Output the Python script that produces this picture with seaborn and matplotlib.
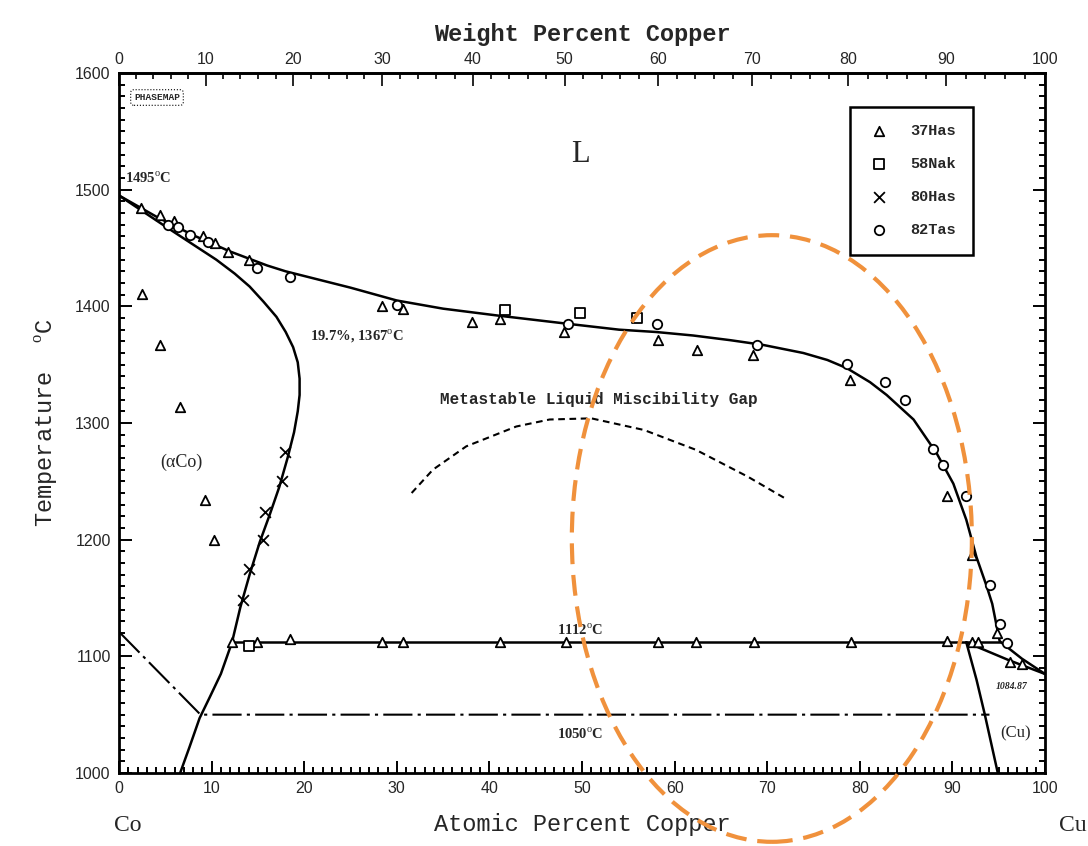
import numpy as np
import pandas as pd
import matplotlib
matplotlib.use("Agg")
import matplotlib.pyplot as plt
from matplotlib.patches import Ellipse
import seaborn as sns

# ---------------- data ----------------
liq_x = [0, 2, 4, 6, 8, 10, 12, 14, 16, 18, 20, 25, 30, 35, 41, 48.5, 54, 58, 62, 66, 69.5,
         73.9, 76.5, 78.6, 81.1, 82.9, 85.8, 88.3, 90.1, 91.5, 92.6, 93.7, 94.3, 94.8, 95.1,
         97.5, 100]
liq_T = [1495, 1486, 1477, 1469, 1461, 1454, 1447, 1441, 1435, 1430, 1426, 1416, 1405, 1398,
         1392, 1385, 1380, 1378, 1375, 1371, 1367, 1360, 1354, 1347, 1335, 1324, 1303, 1274,
         1248, 1217, 1185, 1160, 1145, 1125, 1113, 1098, 1084.87]

sol_x = [0, 5.1, 10.5, 12.5, 14.1, 15.6, 17.0, 18.0, 18.8, 19.3, 19.5, 19.5, 19.3, 18.9,
         18.2, 17.3, 16.3, 15.2, 14.1, 13.1, 12.2, 11.0, 9.8, 8.7, 7.6, 6.6]
sol_T = [1495, 1468, 1440, 1428, 1417, 1404, 1391, 1378, 1365, 1352, 1338, 1324, 1310, 1292,
         1270, 1245, 1222, 1198, 1170, 1142, 1112, 1085, 1065, 1047, 1022, 1000]

peri_x = [12.2, 95.1]
peri_T = [1112, 1112]

cu_solidus_x = [91.5, 96.0, 100]
cu_solidus_T = [1112, 1097, 1084.87]

cu_solvus_x = [91.5, 92.6, 93.5, 94.9]
cu_solvus_T = [1112, 1080, 1050, 1000]

mag_x = [0, 8.8, 94.0]
mag_T = [1121, 1050, 1050]

gap_x = [31.6, 33.9, 37.5, 42.9, 46.5, 51.0, 56.7, 62.3, 67.9, 71.8]
gap_T = [1240, 1260, 1280, 1297, 1303, 1304, 1294, 1277, 1254, 1236]

has37_x = [2.4, 4.4, 5.9, 9.1, 10.4, 11.8, 14.0, 28.4, 30.7, 38.1, 41.1, 48.0, 58.2, 62.4,
           68.5, 78.9, 89.4, 92.1, 94.8,
           2.5, 4.4, 6.6, 9.3, 10.3,
           12.2, 14.9, 18.5, 28.4, 30.7, 41.1, 48.3, 58.2, 62.3, 68.6, 79.0, 89.4, 92.1, 92.8,
           96.2, 97.5]
has37_T = [1484, 1478, 1473, 1460, 1454, 1447, 1440, 1400, 1398, 1387, 1389, 1378, 1371, 1363,
           1358, 1337, 1237, 1187, 1120,
           1411, 1367, 1314, 1234, 1200,
           1112, 1112, 1115, 1112, 1112, 1112, 1112, 1112, 1112, 1112, 1112, 1113, 1112, 1112,
           1095, 1093]

nak58_x = [41.7, 49.8, 55.9, 14.0]
nak58_T = [1397, 1394, 1390, 1109]

has80_x = [17.9, 17.6, 15.8, 15.6, 14.0, 13.4]
has80_T = [1275, 1250, 1224, 1200, 1175, 1148]

tas82_x = [5.3, 6.4, 7.7, 9.6, 14.9, 18.5, 30.0, 48.5, 58.1, 68.9, 78.6, 82.7, 84.9, 87.9,
           89.0, 91.5, 94.1, 95.1, 95.9]
tas82_T = [1470, 1468, 1461, 1455, 1433, 1425, 1401, 1385, 1385, 1367, 1351, 1335, 1320, 1278,
           1264, 1237, 1161, 1128, 1111]

legend_labels = ["37Has", "58Nak", "80Has", "82Tas"]
x_ticks = list(range(0, 101, 10))
y_ticks = list(range(1000, 1601, 100))
wt_ticks = list(range(0, 101, 10))

# ---------------- style ----------------
sns.set_style("white")
plt.rcParams['font.family'] = ['Liberation Serif', 'DejaVu Sans']
plt.rcParams['mathtext.fontset'] = 'custom'
plt.rcParams['mathtext.rm'] = 'Liberation Serif'
plt.rcParams['mathtext.bf'] = 'Liberation Serif:bold'

fig = plt.figure(figsize=(10.88, 8.46), dpi=100)
ax = fig.add_axes([0.1094, 0.0863, 0.8511, 0.8274])

LW = 1.8
def line(xs, ts, **kw):
    sns.lineplot(x=xs, y=ts, sort=False, estimator=None, color='black', lw=kw.pop('lw', LW),
                 ax=ax, **kw)

line(liq_x, liq_T)
line(sol_x, sol_T)
line(peri_x, peri_T)
line(cu_solidus_x, cu_solidus_T)
line(cu_solvus_x, cu_solvus_T)
line(mag_x, mag_T, lw=1.5, linestyle=(0, (14, 2.5, 1.5, 2.5)))
line(gap_x, gap_T, lw=1.5, linestyle=(0, (3.2, 2.2)))

mk = dict(ax=ax, zorder=5)
sns.scatterplot(x=has37_x, y=has37_T, marker='^', s=46, facecolor='white', edgecolor='black',
                linewidth=1.3, label=legend_labels[0], **mk)
sns.scatterplot(x=nak58_x, y=nak58_T, marker='s', s=42, facecolor='white', edgecolor='black',
                linewidth=1.3, label=legend_labels[1], **mk)
sns.scatterplot(x=has80_x, y=has80_T, marker='x', s=60, color='black',
                linewidth=1.3, label=legend_labels[2], **mk)
sns.scatterplot(x=tas82_x, y=tas82_T, marker='o', s=46, facecolor='white', edgecolor='black',
                linewidth=1.3, label=legend_labels[3], **mk)

ax.set_xlim(0, 100)
ax.set_ylim(1000, 1600)

# ticks
ax.set_xticks(x_ticks)
ax.set_xticks(np.arange(0, 101, 1), minor=True)
ax.set_yticks(y_ticks)
ax.set_yticks(np.arange(1000, 1601, 10), minor=True)
ax.tick_params(which='both', direction='in', right=True, top=False, bottom=True, left=True,
               width=1.4, color='black')
ax.tick_params(which='major', length=9, labelsize=11.5, pad=6)
ax.tick_params(which='minor', length=4)
for lab in ax.get_xticklabels() + ax.get_yticklabels():
    lab.set_fontfamily('Liberation Sans')
for sp in ax.spines.values():
    sp.set_linewidth(2.0)
    sp.set_color('black')

MCo, MCu = 58.933, 63.546
def at2wt(a):
    a = np.asarray(a, dtype=float)
    return 100 * a * MCu / (a * MCu + (100 - a) * MCo)
def wt2at(w):
    w = np.asarray(w, dtype=float)
    return 100 * (w / MCu) / (w / MCu + (100 - w) / MCo)

sec = ax.secondary_xaxis('top', functions=(at2wt, wt2at))
sec.set_xticks(wt_ticks)
sec.set_xticks(np.arange(0, 101, 2), minor=True)
sec.tick_params(which='both', direction='in', width=1.4)
sec.tick_params(which='major', length=9, labelsize=11.5, pad=4)
sec.tick_params(which='minor', length=4)
for lab in sec.get_xticklabels():
    lab.set_fontfamily('Liberation Sans')
sec.spines['top'].set_linewidth(2.0)
sec.set_xlabel('Weight Percent Copper', fontsize=17, family='Liberation Mono', weight='bold',
               labelpad=8)

ax.set_xlabel('Atomic Percent Copper', fontsize=17, family='Liberation Mono', labelpad=12)
ax.set_ylabel('Temperature  $^{\\rm o}$C', fontsize=17, family='Liberation Mono', labelpad=10)

# annotations
ax.text(-0.5, 955, 'Co', fontsize=17, family='Liberation Serif', ha='left', va='center')
ax.text(101.5, 955, 'Cu', fontsize=17, family='Liberation Serif', ha='left', va='center')
ax.text(49.8, 1530, 'L', fontsize=22, family='Liberation Serif', ha='center', va='center')
ax.text(0.6, 1510, '1495$^{\\rm o}$C', fontsize=10.5, weight='bold', ha='left', va='center')
ax.text(20.6, 1374, '19.7%, 1367$^{\\rm o}$C', fontsize=10.5, weight='bold', ha='left', va='center')
ax.text(4.4, 1266, '(αCo)', fontsize=13, family='Liberation Serif', ha='left', va='center')
ax.text(51.8, 1320, 'Metastable Liquid Miscibility Gap', fontsize=11.5, weight='bold',
        family='Liberation Mono', ha='center', va='center')
ax.text(49.8, 1122, '1112$^{\\rm o}$C', fontsize=10.5, weight='bold', ha='center', va='center')
ax.text(49.8, 1033, '1050$^{\\rm o}$C', fontsize=10.5, weight='bold', ha='center', va='center')
ax.text(96.4, 1074, '1084.87', fontsize=7, weight='bold', style='italic', ha='center', va='center')
ax.text(96.8, 1034, '(Cu)', fontsize=12, family='Liberation Serif', ha='center', va='center')
ax.text(4.1, 1579, 'PHASEMAP', fontsize=6.8, weight='bold', family='Liberation Mono',
        ha='center', va='center',
        bbox=dict(boxstyle='round,pad=0.35', fc='white', ec='black', lw=0.8, ls=':'))

leg = ax.legend(loc='upper left', bbox_to_anchor=(0.781, 0.963), frameon=True, fancybox=False,
                edgecolor='black', framealpha=1, borderpad=1.15, labelspacing=1.25,
                handletextpad=1.3, handlelength=1.5,
                prop={'family': 'Liberation Mono', 'weight': 'bold', 'size': 11})
leg.get_frame().set_linewidth(1.8)

# orange highlight ellipse
ell = Ellipse((70.5, 1201), width=43.2, height=520, fill=False, edgecolor='#F0913C',
              lw=3.0, ls=(0, (5, 2.6)), clip_on=False, zorder=10)
ax.add_patch(ell)

fig.savefig('out.png', dpi=100)
